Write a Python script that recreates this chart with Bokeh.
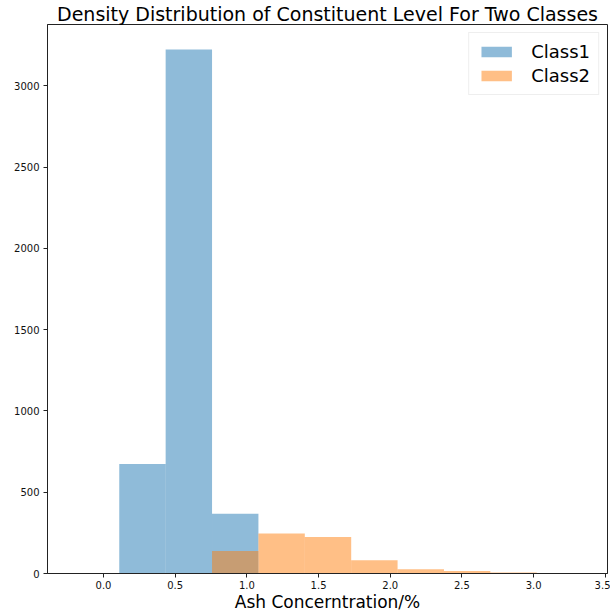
from bokeh.plotting import figure
from bokeh.models import Range1d, FixedTicker, PrintfTickFormatter, Legend, LegendItem
from bokeh.embed import file_html
from bokeh.resources import INLINE

bin_edges = [0.11, 0.4335, 0.757, 1.0805, 1.404, 1.7275, 2.051, 2.3745, 2.698, 3.0215]
class1_counts = [673, 3224, 367, 0, 0, 0, 0, 0, 0]
class2_counts = [0, 0, 139, 246, 224, 82, 26, 16, 6]
x_ticks = [0.0, 0.5, 1.0, 1.5, 2.0, 2.5, 3.0, 3.5]
y_ticks = [0, 500, 1000, 1500, 2000, 2500, 3000]

FONT = "DejaVu Sans"

p = figure(width=610, height=614, output_backend="svg", toolbar_location=None,
           x_range=Range1d(-0.3905, 3.515), y_range=Range1d(0, 3378),
           title="Density Distribution of Constituent Level For Two Classes",
           min_border_left=47, min_border_right=3, min_border_top=0, min_border_bottom=30)

p.title.text_font = FONT
p.title.text_font_size = "19px"
p.title.text_font_style = "normal"
p.title.text_color = "#000000"
p.title.align = "center"
p.title.standoff = 0
p.title.offset = 0

lefts = bin_edges[:-1]
rights = bin_edges[1:]

r1 = p.quad(left=lefts, right=rights, bottom=[0] * len(class1_counts), top=class1_counts,
            fill_color="#1f77b4", fill_alpha=0.5, line_alpha=0)
r2 = p.quad(left=lefts, right=rights, bottom=[0] * len(class2_counts), top=class2_counts,
            fill_color="#ff7f0e", fill_alpha=0.5, line_alpha=0)

p.xgrid.visible = False
p.ygrid.visible = False
p.outline_line_color = "#222222"
p.outline_line_width = 1

for ax in (p.xaxis[0], p.yaxis[0]):
    ax.axis_line_color = "#222222"
    ax.major_tick_line_color = "#222222"
    ax.major_tick_out = 4
    ax.major_tick_in = 0
    ax.minor_tick_line_color = None
    ax.major_label_text_font = FONT
    ax.major_label_text_font_size = "10px"
    ax.major_label_text_color = "#111111"
    ax.axis_label_text_font = FONT
    ax.axis_label_text_font_style = "normal"
    ax.axis_label_text_color = "#000000"

p.xaxis[0].ticker = FixedTicker(ticks=x_ticks)
p.xaxis[0].formatter = PrintfTickFormatter(format="%.1f")
p.yaxis[0].ticker = FixedTicker(ticks=y_ticks)
p.xaxis[0].axis_label = "Ash Concerntration/%"
p.xaxis[0].axis_label_text_font_size = "17px"
p.xaxis[0].axis_label_standoff = 0
p.xaxis[0].major_label_standoff = 3
p.yaxis[0].major_label_standoff = 4

legend = Legend(items=[LegendItem(label="Class1", renderers=[r1]),
                       LegendItem(label="Class2", renderers=[r2])],
                location="top_right")
legend.label_text_font = FONT
legend.label_text_font_size = "18px"
legend.label_text_color = "#000000"
legend.glyph_width = 38
legend.glyph_height = 13
legend.spacing = 3
legend.padding = 8
legend.margin = 8
legend.label_standoff = 16
legend.border_line_color = "#dddddd"
legend.border_line_width = 1
legend.background_fill_alpha = 0.8
p.add_layout(legend)

open("out.html", "w").write(file_html(p, INLINE))
